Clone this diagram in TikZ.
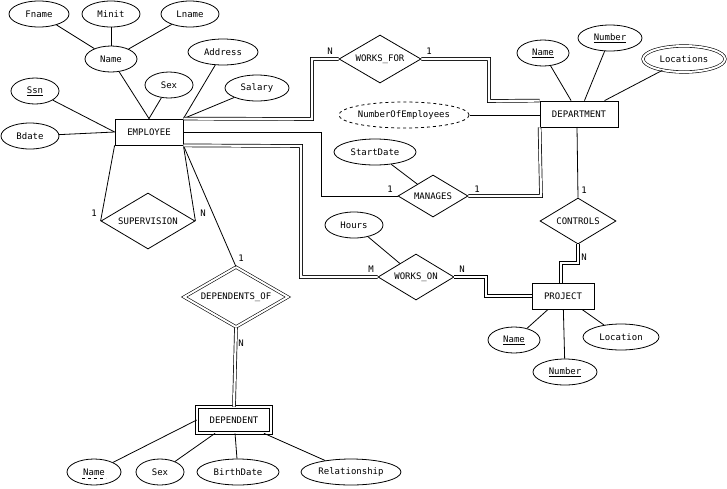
\documentclass[tikz,border=0pt]{standalone}
\usepackage{fontspec}
\setmainfont{DejaVu Sans Mono}
\usetikzlibrary{shapes.geometric}
\begin{document}
\begin{tikzpicture}[x=1pt,y=-1pt,font=\fontsize{9}{10}\selectfont,line width=0.8pt,
 at/.style={ellipse,draw,inner sep=0pt,minimum height=26pt,minimum width=#1},
 ent/.style={rectangle,draw,minimum height=26pt,minimum width=#1,inner sep=1pt},
 rel/.style={diamond,draw,aspect=#1,inner sep=1pt},
 dbl/.style={double,double distance=2.2pt,line width=0.7pt},
 lab/.style={inner sep=1pt}]
\useasboundingbox (0,0) rectangle (727,488);
% entities
\node[ent=68pt] (emp) at (149,132) {EMPLOYEE};
\node[ent=78pt] (dept) at (579,114) {DEPARTMENT};
\node[ent=62pt] (proj) at (563,296) {PROJECT};
\node[ent=74pt,double,double distance=2pt,line width=0.6pt] (dep) at (234,420) {DEPENDENT};
% relationships
\node[rel=1.7,minimum width=94pt,minimum height=56pt] (sup) at (148,221) {SUPERVISION};
\node[rel=1.7,minimum width=104pt,minimum height=60pt,double,double distance=2pt,line width=0.6pt] (dof) at (236,297) {DEPENDENTS\_OF};
\node[rel=1.7,minimum width=82pt,minimum height=48pt] (wf) at (380,59) {WORKS\_FOR};
\node[rel=1.7,minimum width=70pt,minimum height=42pt] (man) at (433,196) {MANAGES};
\node[rel=1.7,minimum width=76pt,minimum height=46pt] (won) at (416,277) {WORKS\_ON};
\node[rel=1.7,minimum width=76pt,minimum height=46pt] (ctl) at (578,221) {CONTROLS};
% attributes
\node[at=60pt] (fname) at (39,14) {Fname};
\node[at=58pt] (minit) at (111,14) {Minit};
\node[at=58pt] (lname) at (190,14) {Lname};
\node[at=52pt] (name) at (111,59) {Name};
\node[at=70pt] (addr) at (223,52) {Address};
\node[at=48pt] (sex) at (169,85) {Sex};
\node[at=64pt] (sal) at (257,88) {Salary};
\node[at=48pt] (ssn) at (35,91) {\underline{Ssn}};
\node[at=58pt] (bdate) at (30,136) {Bdate};
\node[at=54pt] (dname) at (94,472) {Name};
\draw[dashed,line width=0.6pt] (82,478) -- (106,478);
\node[at=48pt] (dsex) at (160,472) {Sex};
\node[at=82pt] (bd) at (238,472) {BirthDate};
\node[at=100pt] (rel) at (351,472) {Relationship};
\node[at=128pt,dashed] (noe) at (404,115) {NumberOfEmployees};
\node[at=82pt] (sd) at (375,152) {StartDate};
\node[at=58pt] (hrs) at (354,225) {Hours};
\node[at=52pt] (dn) at (543,53) {\underline{Name}};
\node[at=64pt] (dnum) at (610,38) {\underline{Number}};
\node[at=82pt,double,double distance=2pt,line width=0.6pt] (loc) at (684,59) {Locations};
\node[at=52pt] (pn) at (514,340) {\underline{Name}};
\node[at=64pt] (pnum) at (565,372) {\underline{Number}};
\node[at=76pt] (ploc) at (621,337) {Location};
% attribute links
\draw (fname) -- (name); \draw (minit) -- (name); \draw (lname) -- (name);
\draw (name) -- (emp.north); \draw (addr) -- (emp.north east); \draw (sex) -- (emp.north);
\draw (sal) -- (emp.north east); \draw (ssn) -- (emp.west); \draw (bdate) -- (emp.west);
\draw (dname) -- (dep.west); \draw (dsex) -- (dep); \draw (bd) -- (dep); \draw (rel) -- (dep);
\draw (noe) -- (noe -| dept.west);
\draw (sd) -- (man); \draw (hrs) -- (won);
\draw (dn) -- (dept); \draw (dnum) -- (dept); \draw (loc) -- (dept);
\draw (pn) -- (proj); \draw (pnum) -- (proj); \draw (ploc) -- (proj);
% relationship links
\draw (emp.south west) -- (sup.west); \draw (emp.south east) -- (sup.east);
\node[lab] at (94,213) {1}; \node[lab] at (203,213) {N};
\draw (emp.south east) -- (dof.north); \node[lab] at (241,258) {1};
\draw[dbl] (dof.south) -- (dep.north); \node[lab] at (241,343) {N};
\draw[dbl] (emp.north east) -- (312,119) -- (312,59) -- (wf.west);
\node[lab] at (330,51) {N};
\draw[dbl] (wf.east) -- (489,59) -- (489,101) -- (dept.north west);
\node[lab] at (429,51) {1};
\draw (emp.east) -- (321,132) -- (321,196) -- (man.west);
\node[lab] at (390,189) {1};
\draw[dbl] (man.east) -- (541,196) -- (dept.south west);
\node[lab] at (477,189) {1};
\draw[dbl] (emp.south east) -- (301,146) -- (301,277) -- (won.west);
\node[lab] at (371,269) {M};
\draw[dbl] (won.east) -- (486,277) -- (486,296) -- (proj.west);
\node[lab] at (462,269) {N};
\draw (577,127) -- (ctl.north); \node[lab] at (584,190) {1};
\draw[dbl] (ctl.south) -- (578,263) -- (561,263) -- (561,283);
\node[lab] at (584,257) {N};
\end{tikzpicture}
\end{document}
